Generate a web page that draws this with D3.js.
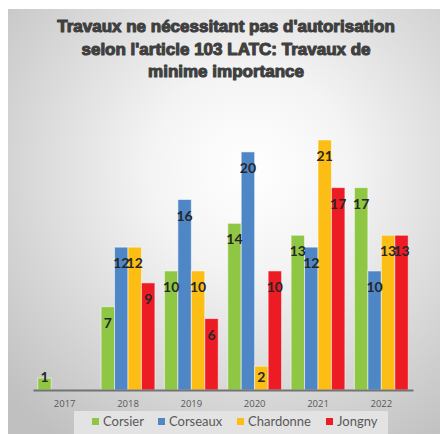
<!DOCTYPE html>
<html><head><meta charset="utf-8">
<script src="https://cdn.jsdelivr.net/npm/d3@7"></script>
<style>html,body{margin:0;padding:0;background:#fff;}svg{display:block;}</style>
</head><body>
<svg id="c" width="440" height="434"></svg>
<script>
const years = ["2017","2018","2019","2020","2021","2022"];
const seriesNames = ["Corsier","Corseaux","Chardonne","Jongny"];
const colors = ["#8fc744","#4f86c6","#fcbd14","#ed1c24"];
const corsier   = [1, 7, 10, 14, 13, 17];
const corseaux  = [null, 12, 16, 20, 12, 10];
const chardonne = [null, 12, 10, 2, 21, 13];
const jongny    = [null, 9, 6, 10, 17, 13];
const titleLines = ["Travaux ne nécessitant pas d'autorisation","selon l'article 103 LATC: Travaux de","minime importance"];

const values = [corsier, corseaux, chardonne, jongny];
const svg = d3.select("#c");
const defs = svg.append("defs");
const rg = defs.append("radialGradient").attr("id","bg")
  .attr("gradientUnits","userSpaceOnUse").attr("cx",250).attr("cy",170).attr("r",330);
rg.append("stop").attr("offset","0").attr("stop-color","#ffffff");
rg.append("stop").attr("offset","0.3").attr("stop-color","#f4f4f4");
rg.append("stop").attr("offset","1").attr("stop-color","#c0c0c0");

svg.append("rect").attr("x",8).attr("y",9).attr("width",432).attr("height",425).attr("fill","url(#bg)");

// title
svg.append("g").selectAll("text").data(titleLines).join("text")
  .attr("x",226).attr("y",(d,i)=>32+i*22.5)
  .attr("text-anchor","middle")
  .attr("font-family","'Liberation Sans', Arial, sans-serif")
  .attr("font-weight","bold").attr("font-size",17)
  .attr("fill","#3f3f3f").attr("stroke","#3f3f3f").attr("stroke-width",1.1)
  .attr("stroke-linejoin","round")
  .text(d=>d);

const x0 = d3.scaleBand().domain(years).range([33,413]).paddingInner(0.15).paddingOuter(0.075);
const x1 = d3.scaleBand().domain(seriesNames).range([0,x0.bandwidth()]).padding(0);
const y = d3.scaleLinear().domain([0,21]).range([390,140]);

const data = [];
years.forEach((yr,i)=>seriesNames.forEach((s,j)=>{
  const v = values[j][i];
  if (v!=null) data.push({yr, s, j, v});
}));

const g = svg.append("g");
g.selectAll("rect").data(data).join("rect")
  .attr("x",d=>x0(d.yr)+x1(d.s))
  .attr("y",d=>y(d.v))
  .attr("width",x1.bandwidth())
  .attr("height",d=>y(0)-y(d.v))
  .attr("fill",d=>colors[d.j])
  .attr("stroke","rgba(255,255,255,0.55)").attr("stroke-width",1);

g.selectAll("text").data(data).join("text")
  .attr("x",d=>x0(d.yr)+x1(d.s)+x1.bandwidth()/2)
  .attr("y",d=>Math.min(y(d.v)+16, 377))
  .attr("dy","0.36em")
  .attr("text-anchor","middle")
  .attr("font-family","Lato, 'Open Sans', sans-serif")
  .attr("font-weight","bold").attr("font-size",14)
  .attr("fill","#262626")
  .text(d=>d.v);

// axis
const ax = svg.append("g").attr("transform","translate(0,390)")
  .call(d3.axisBottom(x0).tickSize(0).tickPadding(10));
ax.select(".domain").attr("stroke","#737373").attr("stroke-width",2);
ax.selectAll("text").attr("font-family","'Open Sans', sans-serif").attr("font-size",9.5).attr("fill","#595959");

// legend
svg.append("rect").attr("x",74).attr("y",411).attr("width",314).attr("height",23).attr("fill","#e3e3e3");
const legX = [92,158,237,326];
const lg = svg.append("g").selectAll("g").data(seriesNames).join("g")
  .attr("transform",(d,i)=>`translate(${legX[i]},418)`);
lg.append("rect").attr("width",7).attr("height",7).attr("fill",(d,i)=>colors[i]);
lg.append("text").attr("x",11).attr("y",3.5).attr("dy","0.36em")
  .attr("font-family","Lato, sans-serif").attr("font-size",13).attr("fill","#595959")
  .text(d=>d);
</script>
</body></html>
